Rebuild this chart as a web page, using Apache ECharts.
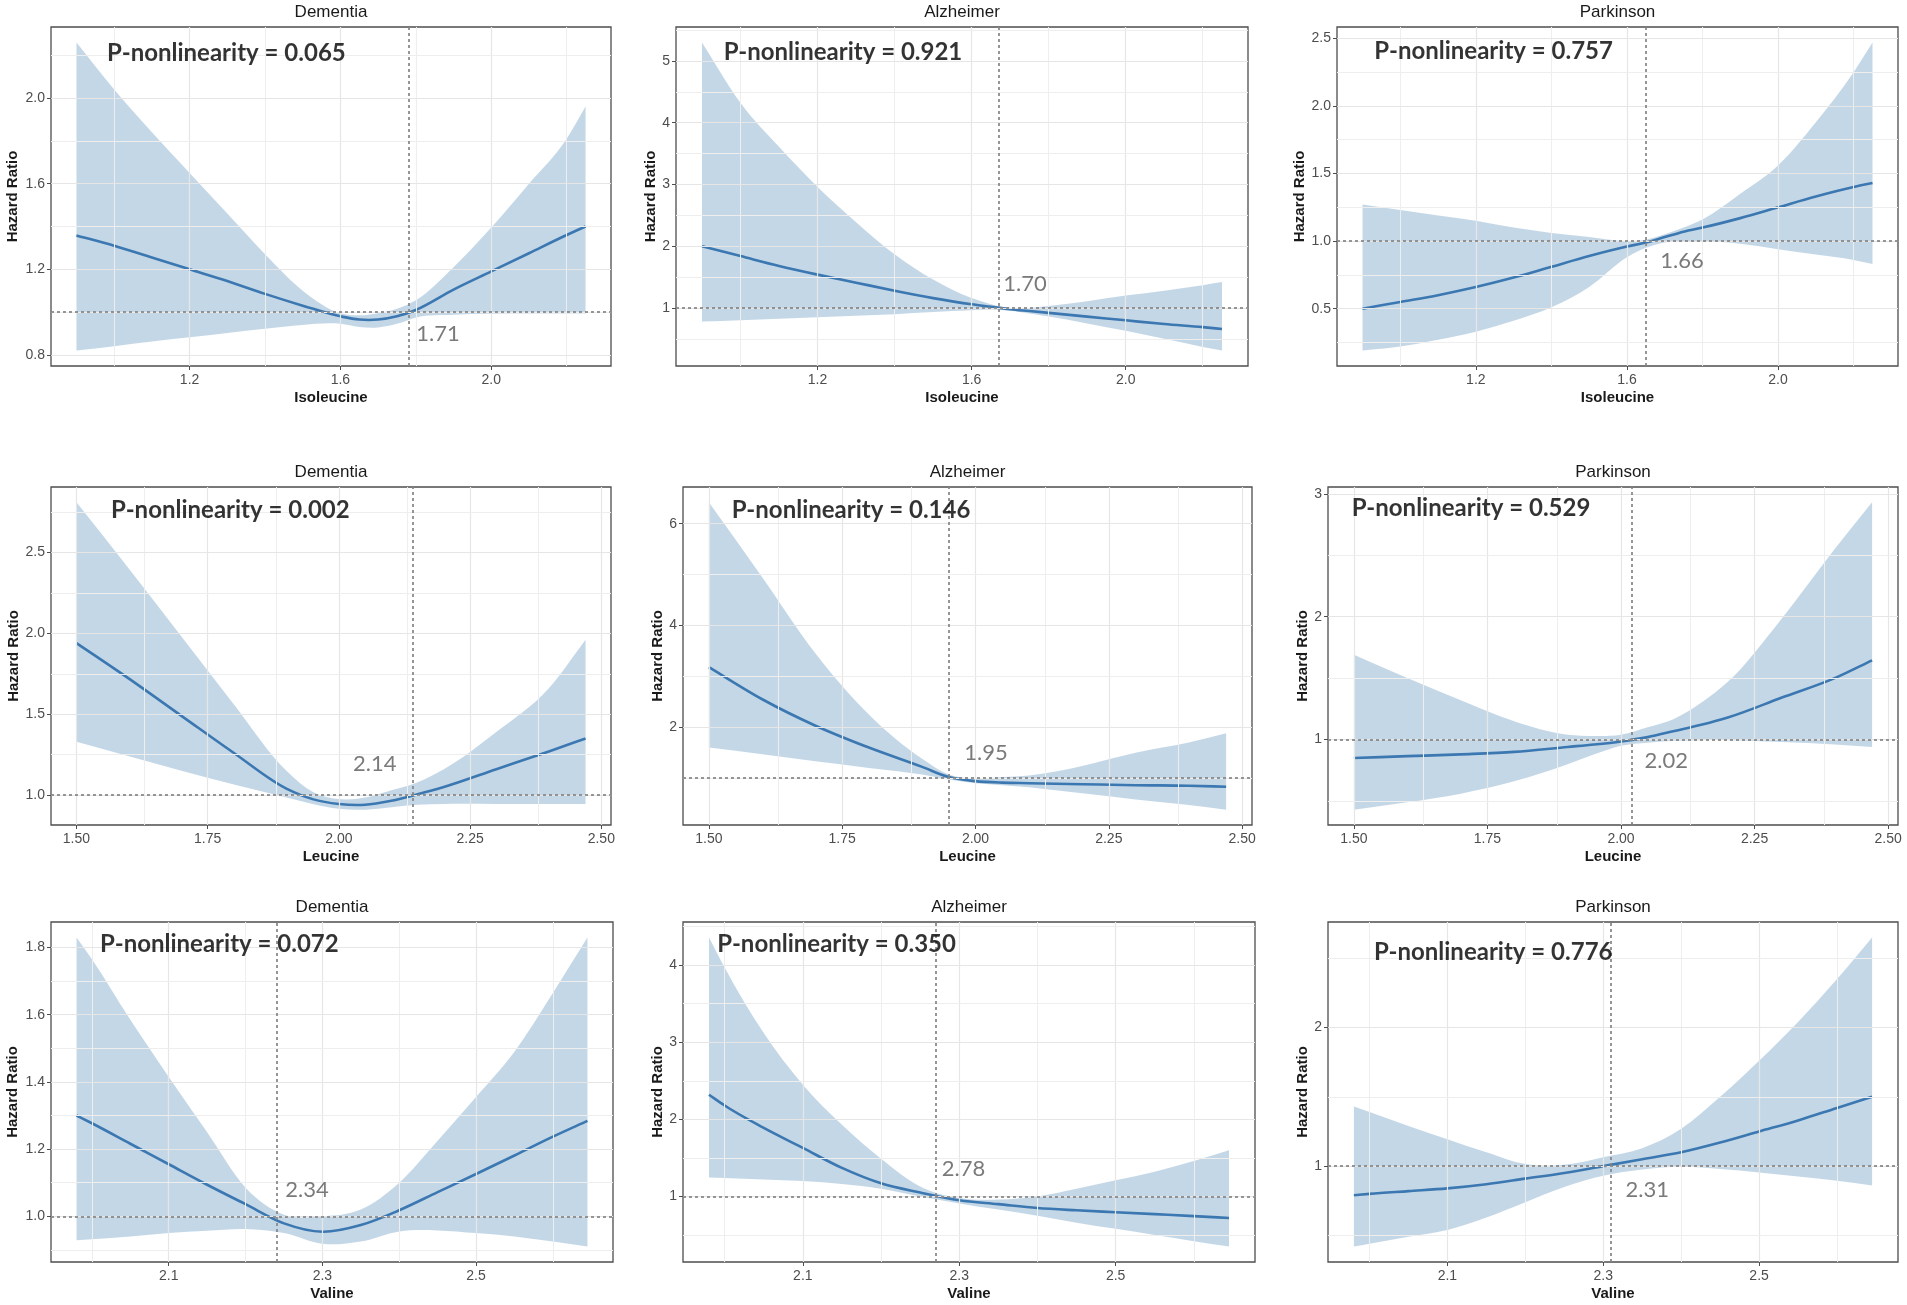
<!DOCTYPE html>
<html><head><meta charset="utf-8">
<script src="https://cdn.jsdelivr.net/npm/echarts@6/dist/echarts.min.js"></script>
<style>html,body{margin:0;padding:0;background:#fff}#c{width:1907px;height:1305px}</style>
</head><body><div id="c"></div>
<script>
// ---------------- DATA ----------------
const diseases = ['Dementia', 'Alzheimer', 'Parkinson'];
const aminoAcids = ['Isoleucine', 'Leucine', 'Valine'];

const xIsoleucine = [0.9, 1.0, 1.1, 1.2, 1.3, 1.4, 1.5, 1.6, 1.65, 1.7, 1.75, 1.8, 1.9, 2.0, 2.1, 2.2, 2.25];
const xLeucine = [1.5, 1.6, 1.7, 1.8, 1.9, 1.95, 2.0, 2.05, 2.1, 2.15, 2.2, 2.3, 2.4, 2.47];
const xValine = [1.98, 2.0, 2.05, 2.1, 2.15, 2.2, 2.25, 2.3, 2.35, 2.4, 2.45, 2.5, 2.55, 2.6, 2.645];

// Isoleucine
const isoDementiaFit   = [1.358, 1.31, 1.255, 1.20, 1.145, 1.085, 1.03, 0.98, 0.965, 0.965, 0.98, 1.01, 1.105, 1.19, 1.275, 1.36, 1.40];
const isoDementiaLower = [0.82, 0.84, 0.862, 0.882, 0.902, 0.922, 0.94, 0.945, 0.93, 0.928, 0.945, 0.975, 0.988, 0.992, 0.993, 0.993, 0.993];
const isoDementiaUpper = [2.26, 2.04, 1.84, 1.65, 1.46, 1.27, 1.10, 0.995, 0.985, 0.995, 1.015, 1.055, 1.21, 1.395, 1.60, 1.81, 1.96];
const isoAlzheimerFit   = [2.0, 1.84, 1.68, 1.54, 1.41, 1.28, 1.16, 1.06, 1.02, 0.98, 0.95, 0.92, 0.86, 0.8, 0.74, 0.69, 0.66];
const isoAlzheimerLower = [0.78, 0.8, 0.825, 0.85, 0.875, 0.9, 0.935, 0.965, 0.975, 0.955, 0.91, 0.86, 0.75, 0.63, 0.5, 0.37, 0.31];
const isoAlzheimerUpper = [5.3, 4.32, 3.61, 2.96, 2.39, 1.87, 1.46, 1.16, 1.06, 1.0, 1.0, 1.03, 1.11, 1.2, 1.28, 1.37, 1.42];
const isoParkinsonFit   = [0.5, 0.55, 0.6, 0.66, 0.73, 0.81, 0.89, 0.96, 0.99, 1.03, 1.07, 1.1, 1.17, 1.25, 1.33, 1.4, 1.43];
const isoParkinsonLower = [0.19, 0.22, 0.27, 0.33, 0.41, 0.51, 0.66, 0.88, 0.95, 0.99, 1.0, 1.0, 0.98, 0.94, 0.9, 0.86, 0.83];
const isoParkinsonUpper = [1.27, 1.23, 1.19, 1.15, 1.1, 1.06, 1.03, 1.0, 1.01, 1.05, 1.1, 1.16, 1.35, 1.56, 1.88, 2.25, 2.47];

// Leucine
const leuDementiaFit   = [1.94, 1.72, 1.49, 1.26, 1.04, 0.975, 0.945, 0.94, 0.965, 1.005, 1.05, 1.16, 1.27, 1.35];
const leuDementiaLower = [1.33, 1.24, 1.15, 1.065, 0.985, 0.945, 0.915, 0.91, 0.925, 0.94, 0.945, 0.945, 0.945, 0.945];
const leuDementiaUpper = [2.81, 2.40, 1.98, 1.56, 1.15, 1.02, 0.975, 0.985, 1.03, 1.08, 1.16, 1.39, 1.66, 1.96];
const leuAlzheimerFit   = [3.18, 2.55, 2.03, 1.6, 1.22, 1.02, 0.94, 0.91, 0.9, 0.89, 0.88, 0.86, 0.85, 0.83];
const leuAlzheimerLower = [1.6, 1.47, 1.33, 1.2, 1.07, 0.97, 0.9, 0.86, 0.82, 0.76, 0.7, 0.58, 0.47, 0.38];
const leuAlzheimerUpper = [6.42, 4.95, 3.45, 2.25, 1.38, 1.07, 0.99, 1.02, 1.05, 1.13, 1.24, 1.5, 1.7, 1.88];
const leuParkinsonFit   = [0.85, 0.865, 0.88, 0.9, 0.94, 0.96, 0.985, 1.02, 1.07, 1.12, 1.18, 1.34, 1.5, 1.645];
const leuParkinsonLower = [0.43, 0.49, 0.56, 0.66, 0.8, 0.88, 0.95, 0.975, 0.99, 0.995, 0.995, 0.98, 0.96, 0.94];
const leuParkinsonUpper = [1.69, 1.50, 1.32, 1.15, 1.04, 1.03, 1.04, 1.1, 1.17, 1.3, 1.47, 1.98, 2.55, 2.93];

// Valine
const valDementiaFit   = [1.30, 1.277, 1.216, 1.155, 1.094, 1.036, 0.979, 0.954, 0.974, 1.018, 1.072, 1.126, 1.181, 1.237, 1.284];
const valDementiaLower = [0.929, 0.932, 0.94, 0.95, 0.957, 0.962, 0.95, 0.918, 0.925, 0.955, 0.958, 0.95, 0.94, 0.925, 0.91];
const valDementiaUpper = [1.83, 1.765, 1.585, 1.415, 1.25, 1.085, 1.005, 1.0, 1.02, 1.10, 1.225, 1.355, 1.49, 1.665, 1.83];
const valAlzheimerFit   = [2.32, 2.18, 1.89, 1.63, 1.37, 1.17, 1.05, 0.95, 0.9, 0.85, 0.82, 0.795, 0.77, 0.745, 0.72];
const valAlzheimerLower = [1.245, 1.24, 1.22, 1.2, 1.16, 1.1, 1.0, 0.91, 0.83, 0.75, 0.66, 0.58, 0.5, 0.42, 0.35];
const valAlzheimerUpper = [4.36, 3.97, 3.12, 2.45, 1.93, 1.49, 1.13, 0.98, 0.96, 1.0, 1.1, 1.21, 1.32, 1.46, 1.6];
const valParkinsonFit   = [0.79, 0.80, 0.82, 0.84, 0.87, 0.91, 0.95, 1.0, 1.05, 1.1, 1.17, 1.25, 1.33, 1.42, 1.5];
const valParkinsonLower = [0.42, 0.44, 0.49, 0.54, 0.63, 0.74, 0.85, 0.93, 0.975, 0.995, 0.98, 0.955, 0.925, 0.895, 0.86];
const valParkinsonUpper = [1.43, 1.39, 1.29, 1.195, 1.10, 1.015, 1.01, 1.065, 1.13, 1.27, 1.50, 1.76, 2.04, 2.35, 2.65];

const pValues = ['0.065', '0.921', '0.757', '0.002', '0.146', '0.529', '0.072', '0.350', '0.776'];
const cutoffLabels = ['1.71', '1.70', '1.66', '2.14', '1.95', '2.02', '2.34', '2.78', '2.31'];
const cutoffX = [1.78, 1.665, 1.645, 2.139, 1.948, 2.015, 2.24, 2.268, 2.306];
const referenceHR = 1;
const pTextPos = [[0.98, 2.21], [0.955, 5.14], [0.93, 2.405], [1.565, 2.76], [1.542, 6.26], [1.495, 2.88], [2.01, 1.81], [1.99, 4.27], [2.005, 2.545]];
const cutoffTextPos = [[1.80, 0.90], [1.681, 1.39], [1.687, 0.85], [2.026, 1.194], [1.978, 1.49], [2.043, 0.83], [2.251, 1.08], [2.277, 1.354], [2.328, 0.83]];

const xTickLabels = [['1.2', '1.6', '2.0'], ['1.50', '1.75', '2.00', '2.25', '2.50'], ['2.1', '2.3', '2.5']];
const xMinorTicks = [[1.0, 1.4, 1.8, 2.2], [1.625, 1.875, 2.125, 2.375], [2.0, 2.2, 2.4, 2.6]];
const yTickLabels = [
  ['0.8', '1.2', '1.6', '2.0'], ['1', '2', '3', '4', '5'], ['0.5', '1.0', '1.5', '2.0', '2.5'],
  ['1.0', '1.5', '2.0', '2.5'], ['2', '4', '6'], ['1', '2', '3'],
  ['1.0', '1.2', '1.4', '1.6', '1.8'], ['1', '2', '3', '4'], ['1', '2']
];
const yMinorTicks = [
  [1.0, 1.4, 1.8, 2.2], [0.5, 1.5, 2.5, 3.5, 4.5, 5.5], [0.25, 0.75, 1.25, 1.75, 2.25],
  [1.25, 1.75, 2.25, 2.75], [1, 3, 5], [0.5, 1.5, 2.5],
  [0.9, 1.1, 1.3, 1.5, 1.7], [0.5, 1.5, 2.5, 3.5, 4.5], [0.5, 1.5, 2.5]
];

// ---------------- LAYOUT / STYLE ----------------
const xsByRow = [xIsoleucine, xLeucine, xValine];
const fits = [isoDementiaFit, isoAlzheimerFit, isoParkinsonFit, leuDementiaFit, leuAlzheimerFit, leuParkinsonFit, valDementiaFit, valAlzheimerFit, valParkinsonFit];
const lowers = [isoDementiaLower, isoAlzheimerLower, isoParkinsonLower, leuDementiaLower, leuAlzheimerLower, leuParkinsonLower, valDementiaLower, valAlzheimerLower, valParkinsonLower];
const uppers = [isoDementiaUpper, isoAlzheimerUpper, isoParkinsonUpper, leuDementiaUpper, leuAlzheimerUpper, leuParkinsonUpper, valDementiaUpper, valAlzheimerUpper, valParkinsonUpper];

const boxes = [
  [51, 27, 560, 339], [676, 27, 572, 339], [1337, 27, 561, 339],
  [51, 487, 560, 338], [683, 487, 569, 338], [1328, 487, 570, 338],
  [51, 922, 562, 340], [683, 922, 572, 340], [1328, 922, 570, 340]
];
const yNameGaps = [31, 18, 28, 29, 17, 17, 31, 16, 17];

const LINE_COLOR = '#3b77b1';
const BAND_COLOR = 'rgba(70,130,180,0.32)';
const AXIS_FONT = 'Liberation Sans';

function expand(lo, hi) { const d = (hi - lo) * 0.05; return [lo - d, hi + d]; }
function pts(xs, ys) { return xs.map((x, k) => [x, ys[k]]); }

// Cubic Hermite spline through pixel points (render smoothing only), tangent from non-uniform 3-point slope
function splinePath(p, start) {
  const n = p.length, m = new Array(n);
  for (let k = 0; k < n; k++) {
    if (k === 0) m[k] = (p[1][1] - p[0][1]) / (p[1][0] - p[0][0]);
    else if (k === n - 1) m[k] = (p[k][1] - p[k - 1][1]) / (p[k][0] - p[k - 1][0]);
    else {
      const h0 = p[k][0] - p[k - 1][0], h1 = p[k + 1][0] - p[k][0];
      const d0 = (p[k][1] - p[k - 1][1]) / h0, d1 = (p[k + 1][1] - p[k][1]) / h1;
      m[k] = (d0 * h1 + d1 * h0) / (h0 + h1);
    }
  }
  let d = (start ? 'M' : 'L') + p[0][0] + ' ' + p[0][1];
  for (let k = 0; k < n - 1; k++) {
    const h = p[k + 1][0] - p[k][0];
    const c1 = [p[k][0] + h / 3, p[k][1] + m[k] * h / 3];
    const c2 = [p[k + 1][0] - h / 3, p[k + 1][1] - m[k + 1] * h / 3];
    d += ' C' + c1[0] + ' ' + c1[1] + ' ' + c2[0] + ' ' + c2[1] + ' ' + p[k + 1][0] + ' ' + p[k + 1][1];
  }
  return d;
}

const grid = [], xAxis = [], yAxis = [], series = [], graphic = [];

for (let i = 0; i < 9; i++) {
  const r = Math.floor(i / 3), c = i % 3;
  const xs = xsByRow[r];
  const b = boxes[i];
  grid.push({ left: b[0], top: b[1], width: b[2], height: b[3], show: true, borderColor: '#4d4d4d', borderWidth: 1.3, backgroundColor: '#fff', containLabel: false });

  const [xmin, xmax] = expand(Math.min(...xs), Math.max(...xs));
  const [ymin, ymax] = expand(Math.min(...lowers[i]), Math.max(...uppers[i]));
  const xMaj = xTickLabels[r].map(Number);
  const yMaj = yTickLabels[i].map(Number);
  const xLab = xTickLabels[r], yLab = yTickLabels[i];

  xAxis.push({
    type: 'value', gridIndex: i, min: xmin, max: xmax,
    name: aminoAcids[r], nameLocation: 'middle', nameGap: 24,
    nameTextStyle: { fontFamily: AXIS_FONT, fontSize: 15, fontWeight: 'bold', color: '#1a1a1a' },
    axisLine: { show: false, onZero: false }, splitLine: { show: false },
    axisTick: { show: true, customValues: xMaj, length: 4, lineStyle: { color: '#4d4d4d', width: 1 } },
    axisLabel: { customValues: xMaj, margin: 7, fontFamily: AXIS_FONT, fontSize: 14, color: '#4d4d4d',
      formatter: v => { const k = xMaj.findIndex(t => Math.abs(t - v) < 1e-9); return k >= 0 ? xLab[k] : ''; } }
  });
  yAxis.push({
    type: 'value', gridIndex: i, min: ymin, max: ymax,
    name: 'Hazard Ratio', nameLocation: 'middle', nameGap: yNameGaps[i],
    nameTextStyle: { fontFamily: AXIS_FONT, fontSize: 15, fontWeight: 'bold', color: '#1a1a1a' },
    axisLine: { show: false, onZero: false }, splitLine: { show: false },
    axisTick: { show: true, customValues: yMaj, length: 4, lineStyle: { color: '#4d4d4d', width: 1 } },
    axisLabel: { customValues: yMaj, margin: 6, fontFamily: AXIS_FONT, fontSize: 14, color: '#4d4d4d',
      formatter: v => { const k = yMaj.findIndex(t => Math.abs(t - v) < 1e-9); return k >= 0 ? yLab[k] : ''; } }
  });

  const gridLines = [];
  xMaj.forEach(v => gridLines.push({ xAxis: v, lineStyle: { color: '#e6e6e6', width: 1.2, type: 'solid' } }));
  xMinorTicks[r].forEach(v => gridLines.push({ xAxis: v, lineStyle: { color: '#eeeeee', width: 1, type: 'solid' } }));
  yMaj.forEach(v => gridLines.push({ yAxis: v, lineStyle: { color: '#e6e6e6', width: 1.2, type: 'solid' } }));
  yMinorTicks[i].filter(v => v > ymin && v < ymax).forEach(v => gridLines.push({ yAxis: v, lineStyle: { color: '#eeeeee', width: 1, type: 'solid' } }));

  const common = { xAxisIndex: i, yAxisIndex: i, silent: true, animation: false };
  const up = uppers[i], lo = lowers[i], fit = fits[i];

  // grid lines
  series.push(Object.assign({}, common, {
    type: 'line', symbol: 'none', data: pts(xs, fit), lineStyle: { opacity: 0 }, z: 1,
    markLine: { silent: true, symbol: ['none', 'none'], label: { show: false }, animation: false, data: gridLines }
  }));
  // confidence band
  series.push(Object.assign({}, common, {
    type: 'custom', coordinateSystem: 'cartesian2d', z: 2,
    data: [[xs[0], lo[0]]],
    renderItem: (params, api) => {
      const upPx = xs.map((x, k) => api.coord([x, up[k]]));
      const loPx = xs.map((x, k) => api.coord([x, lo[k]])).reverse();
      const d = splinePath(upPx, true) + ' ' + splinePath(loPx, false) + ' Z';
      return { type: 'path', shape: { pathData: d }, style: { fill: BAND_COLOR, stroke: null } };
    }
  }));
  // fitted curve + reference lines
  series.push(Object.assign({}, common, {
    type: 'custom', coordinateSystem: 'cartesian2d', z: 4,
    data: [[xs[0], fit[0]]],
    renderItem: (params, api) => {
      const fPx = xs.map((x, k) => api.coord([x, fit[k]]));
      return { type: 'path', shape: { pathData: splinePath(fPx, true) }, style: { fill: null, stroke: LINE_COLOR, lineWidth: 2.6 } };
    },
    markLine: { silent: true, symbol: ['none', 'none'], label: { show: false }, animation: false,
      lineStyle: { color: '#858585', width: 1.7, type: [3, 3] },
      data: [{ xAxis: cutoffX[i] }, { yAxis: referenceHR }] }
  }));
  // annotations
  series.push({
    type: 'scatter', xAxisIndex: i, yAxisIndex: i, silent: true, animation: false, z: 10,
    symbolSize: 1, itemStyle: { color: 'rgba(0,0,0,0)' },
    label: { show: true, position: 'right', distance: 0 },
    data: [
      { value: pTextPos[i], label: { formatter: 'P-nonlinearity = ' + pValues[i], fontFamily: 'Lato', fontWeight: 'bold', fontSize: 24, color: '#000' } },
      { value: cutoffTextPos[i], label: { formatter: cutoffLabels[i], fontFamily: 'Lato', fontSize: 22, color: '#595959' } }
    ]
  });

  graphic.push({ type: 'text', x: b[0] + b[2] / 2, y: b[1] - 15, silent: true,
    style: { text: diseases[c], align: 'center', verticalAlign: 'middle', fontFamily: AXIS_FONT, fontSize: 17, fill: '#1a1a1a' } });
}

const chart = echarts.init(document.getElementById('c'), null, { renderer: 'canvas' });
chart.setOption({ backgroundColor: '#fff', animation: false, grid, xAxis, yAxis, series, graphic });
</script>
</body></html>
